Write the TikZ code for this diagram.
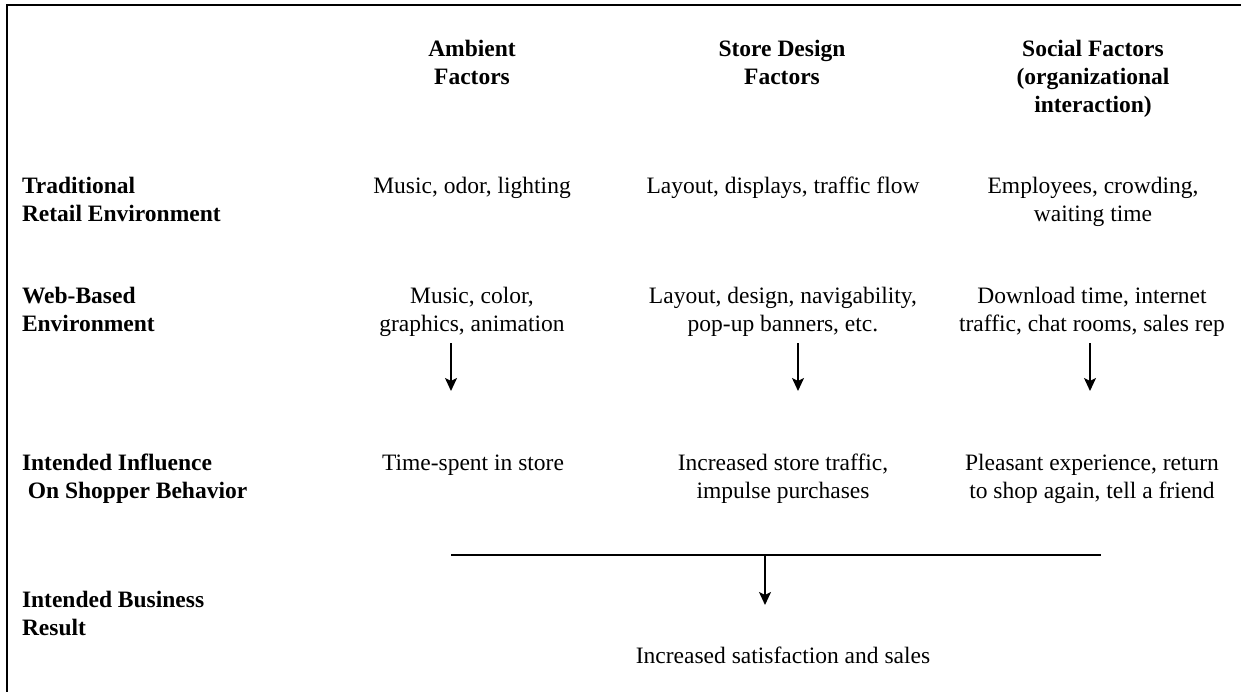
\documentclass[tikz,border=0pt]{standalone}
\usepackage{fontspec}
\setmainfont{Liberation Serif}
\usetikzlibrary{arrows.meta}
% multi-line cells whose baseline is the baseline of the first line
\newcommand{\ctext}[1]{\begin{tabular}[t]{@{}c@{}}#1\end{tabular}}
\newcommand{\ltext}[1]{\begin{tabular}[t]{@{}l@{}}#1\end{tabular}}

\begin{document}
\begin{tikzpicture}[x=1pt,y=-1pt,
  txt/.style={inner sep=0pt, outer sep=0pt, font=\fontsize{23.5}{28}\selectfont},
  head/.style={txt, anchor=base, font=\fontsize{23.5}{28}\selectfont\bfseries},
  rowlabel/.style={txt, anchor=base west, font=\fontsize{23.5}{28}\selectfont\bfseries},
  cell/.style={txt, anchor=base},
  frame/.style={line width=2.2pt, line join=miter},
  flow/.style={line width=1.6pt, -{Stealth[length=13pt,width=12pt,inset=3pt]}},
  bar/.style={line width=1.4pt}]
\useasboundingbox (0,0) rectangle (1241,692);

% outer frame (left and top edges)
\coordinate (fbl) at (7,692);
\coordinate (ftl) at (7,5);
\coordinate (ftr) at (1241,5);
\draw[frame] (fbl) -- (ftl) -- (ftr);

% column headings
\node[head] (hamb) at (472,57) {\ctext{Ambient\\Factors}};
\node[head] (hdes) at (782,57) {\ctext{Store Design\\Factors}};
\node[head] (hsoc) at (1093,57) {\ctext{Social Factors\\(organizational\\interaction)}};

% row labels
\node[rowlabel] (ltrad) at (22,194) {\ltext{Traditional\\Retail Environment}};
\node[rowlabel] (lweb)  at (22,304) {\ltext{Web-Based\\Environment}};
\node[rowlabel] (linfl) at (22,470) {\ltext{Intended Influence\\\hspace*{.25em}On Shopper Behavior}};
\node[rowlabel] (lres)  at (22,607) {\ltext{Intended Business\\Result}};

% traditional retail environment
\node[cell] (tamb) at (472,194) {\ctext{Music, odor, lighting}};
\node[cell] (tdes) at (783,194) {\ctext{Layout, displays, traffic flow}};
\node[cell] (tsoc) at (1093,194) {\ctext{Employees, crowding,\\waiting time}};

% web-based environment
\node[cell] (wamb) at (472,304) {\ctext{Music, color,\\graphics, animation}};
\node[cell] (wdes) at (783,304) {\ctext{Layout, design, navigability,\\pop-up banners, etc.}};
\node[cell] (wsoc) at (1092,304) {\ctext{Download time, internet\\traffic, chat rooms, sales rep}};

% intended influence on shopper behavior
\node[cell] (iamb) at (473,470) {\ctext{Time-spent in store}};
\node[cell] (ides) at (783,470) {\ctext{Increased store traffic,\\impulse purchases}};
\node[cell] (isoc) at (1092,470) {\ctext{Pleasant experience, return\\to shop again, tell a friend}};

% intended business result
\node[cell] (result) at (783,663) {Increased satisfaction and sales};

% arrows from the web-based row to the influence row
\coordinate (a1s) at (451,343);  \coordinate (a1e) at (451,391);
\coordinate (a2s) at (798,343);  \coordinate (a2e) at (798,391);
\coordinate (a3s) at (1090,343); \coordinate (a3e) at (1090,391);
\draw[flow] (a1s) -- (a1e);
\draw[flow] (a2s) -- (a2e);
\draw[flow] (a3s) -- (a3e);

% collecting bar and arrow to the business result
\coordinate (bl) at (451,555);
\coordinate (br) at (1101,555);
\coordinate (bs) at (765,556);
\coordinate (be) at (765,605);
\draw[bar] (bl) -- (br);
\draw[flow] (bs) -- (be);
\end{tikzpicture}
\end{document}
